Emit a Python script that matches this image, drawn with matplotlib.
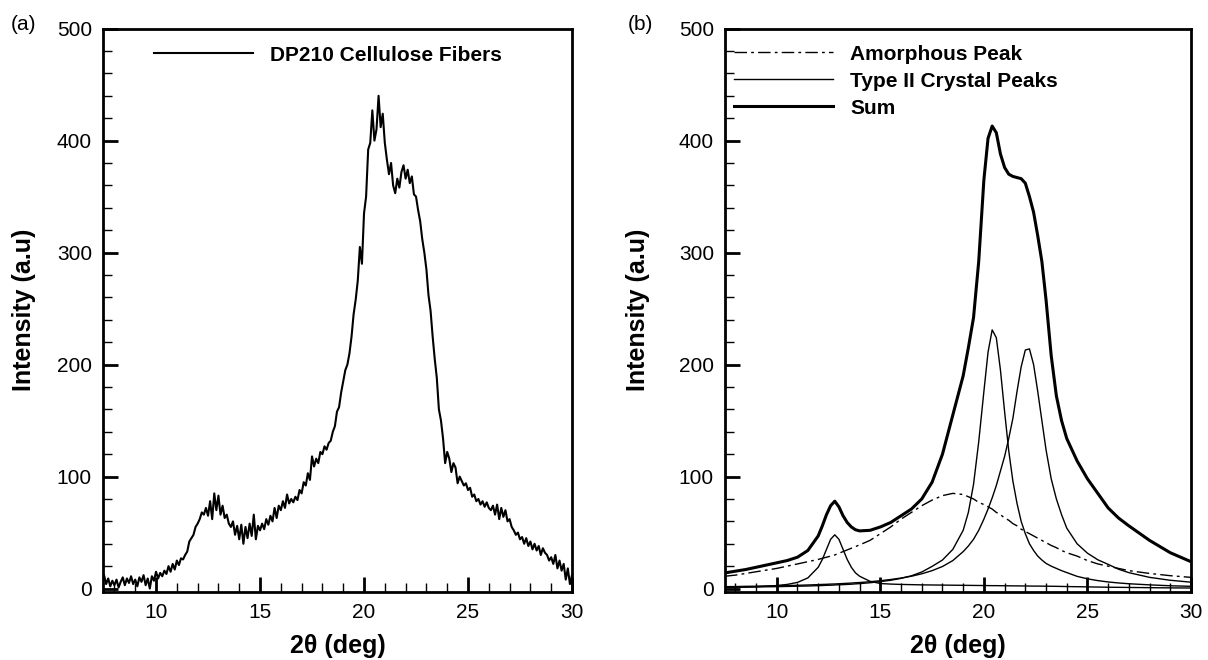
import numpy as np
import matplotlib
matplotlib.use("Agg")
import matplotlib.pyplot as plt

plt.rcParams['font.family'] = ['Liberation Sans', 'DejaVu Sans']

# ---- panel (a): measured pattern, 0.1 deg scan grid ----
scan_start, scan_stop, n_scan = 7.5, 30.0, 226
intensity = [
    12, 4, 9, 2, 7, 3, 8, 1, 6, 10,
    3, 9, 5, 11, 4, 8, 2, 10, 6, 12,
    3, 9, 0, 11, 7, 15,
    9, 14, 11, 16, 13, 20, 15, 22, 17, 25,
    21, 27, 26, 30, 33, 42, 45, 48, 55, 58,
    62, 68, 66, 72, 65, 78, 62, 85, 70, 83,
    66, 74, 63, 66, 58, 55, 60, 48, 56, 44,
    57, 40, 55, 45, 58, 47, 66, 44, 56, 52,
    58, 53, 62, 57, 65, 60, 72, 63, 74, 70,
    78, 72, 84, 76, 80, 77, 82, 79, 88, 85,
    95, 92, 103, 97, 118, 109, 116, 112, 122, 120,
    127, 124, 130, 132, 140, 145, 158, 162, 175, 185,
    195, 200, 210, 225, 245, 258, 275, 305, 290, 335,
    350, 392, 398, 427, 400, 410, 440, 412, 424, 398,
    383, 370, 380, 360, 353, 366, 358, 372, 378, 366,
    374, 362, 368, 352, 350, 338, 328, 312, 300, 285,
    262, 248, 225, 205, 188, 160, 150, 134, 112, 122,
    116, 104, 112, 108, 94, 100, 96, 92, 94, 88,
    90, 82, 84, 78, 80, 75, 78, 73, 77, 72,
    70, 74, 66, 75, 62, 72, 64, 70, 60, 62,
    55, 52, 48, 50, 44, 46, 40, 45, 38, 42,
    35, 40, 34, 38, 30, 36, 32, 30, 25, 28,
    22, 30, 18, 25, 16, 22, 8, 18, 4, 12,
]

# ---- panel (b): fitted components ----
fit_x = [7.5, 8, 8.5, 9, 9.5, 10, 10.5, 11, 11.5, 12,
         12.2, 12.4, 12.6, 12.8, 13, 13.2, 13.4, 13.6, 13.8, 14,
         14.5, 15, 15.5, 16, 16.5, 17, 17.5, 18, 18.5, 19,
         19.25, 19.5, 19.75, 20, 20.2, 20.4, 20.6, 20.8, 21, 21.2,
         21.4, 21.6, 21.8, 22, 22.2, 22.4, 22.6, 22.8, 23, 23.25,
         23.5, 23.75, 24, 24.5, 25, 25.5, 26, 26.5, 27, 28,
         29, 30]
amorphous = [11, 12, 13.5, 15, 16.5, 18, 20, 22, 24, 26,
             27, 28, 29, 30, 31.5, 33, 34.5, 36, 37.5, 39,
             43, 49, 55, 62, 68, 74, 79, 83, 85, 84,
             82, 80, 77, 75, 73, 71, 68, 66, 63, 61,
             58, 56, 53, 51, 49, 47, 45, 43, 41, 38.5,
             36.5, 34, 32, 29, 25, 22, 20, 18, 16, 13.5,
             11.5, 10]
peak_12_8 = [1.0, 1.2, 1.4, 1.7, 2.1, 2.7, 3.7, 5.5, 9.5, 19,
             26, 35, 44, 48, 44, 35, 26, 19, 14, 11,
             6.5, 4.5, 4.0, 3.7, 3.5, 3.3, 3.2, 3.1, 3.0, 2.9,
             2.85, 2.8, 2.75, 2.7, 2.65, 2.6, 2.6, 2.55, 2.5, 2.45,
             2.4, 2.4, 2.35, 2.3, 2.25, 2.2, 2.2, 2.15, 2.1, 2.05,
             2.0, 1.9, 1.8, 1.65, 1.5, 1.35, 1.2, 1.1, 1.0, 0.8,
             0.6, 0.5]
peak_20_4 = [1.1, 1.2, 1.3, 1.4, 1.6, 1.7, 1.9, 2.1, 2.3, 2.6,
             2.7, 2.9, 3.0, 3.2, 3.4, 3.5, 3.7, 3.9, 4.2, 4.4,
             5.2, 6.2, 7.4, 9.1, 11.4, 14.8, 19.8, 25.5, 35, 52,
             68, 93, 131, 176, 211, 231, 224, 195, 158, 123,
             96, 76, 60, 49, 40, 34, 29, 25.5, 22.5, 20,
             18, 16, 14.3, 10.9, 8.7, 7.1, 5.9, 5.0, 4.3, 3.3,
             2.5, 2.0]
peak_22_1 = [1.7, 1.8, 2.0, 2.1, 2.3, 2.5, 2.7, 2.9, 3.2, 3.5,
             3.7, 3.8, 4.0, 4.1, 4.3, 4.5, 4.7, 4.9, 5.2, 5.4,
             6.1, 7.0, 8.1, 9.4, 11, 13.2, 16, 19.7, 25, 33,
             38, 44, 52, 62, 71, 81, 92, 105, 118, 134,
             152, 176, 198, 213, 214, 200, 176, 150, 124, 98,
             80, 66, 54, 40, 31.6, 25.7, 21.6, 17.3, 14.2, 10,
             7.4, 5.7]
fit_sum = [14, 15.5, 17, 19, 21, 23, 25, 28, 34, 47,
           56, 66, 74, 78, 73, 65, 59, 55, 52.5, 51.5,
           52, 55, 59, 65, 71, 80, 95, 120, 155, 190,
           215, 242, 292, 365, 402, 413, 407, 388, 376, 370,
           368, 367, 366, 362, 350, 336, 315, 292, 258, 208,
           172, 150, 134, 114, 98, 85, 72, 63, 56, 43,
           32, 24]

two_theta = np.linspace(scan_start, scan_stop, n_scan)

W, H = 1208, 660
fig = plt.figure(figsize=(W / 100, H / 100), dpi=100)
ax1 = fig.add_axes([103 / W, 68.3 / H, 469 / W, 563.1 / H])
ax2 = fig.add_axes([725 / W, 68.3 / H, 466 / W, 563.1 / H])

ax1.plot(two_theta, intensity, color='black', lw=1.5, label='DP210 Cellulose Fibers')

ax2.plot(fit_x, amorphous, color='black', lw=1.0, linestyle=(0, (9, 3, 2, 3)),
         label='Amorphous Peak')
ax2.plot(fit_x, peak_12_8, color='black', lw=1.0, label='Type II Crystal Peaks')
ax2.plot(fit_x, peak_20_4, color='black', lw=1.0)
ax2.plot(fit_x, peak_22_1, color='black', lw=1.0)
ax2.plot(fit_x, fit_sum, color='black', lw=2.2, label='Sum')

for ax, xlo in ((ax1, 7.45), (ax2, 7.5)):
    ax.set_xlim(xlo, 30)
    ax.set_ylim(-2.8, 500)
    ax.set_xticks([10, 15, 20, 25, 30])
    ax.set_yticks([0, 100, 200, 300, 400, 500])
    ax.set_xticks(np.arange(8, 30, 1), minor=True)
    ax.set_yticks(np.arange(0, 500, 20), minor=True)
    ax.tick_params(which='both', direction='in', top=False, right=False,
                   labelsize=15, pad=8)
    ax.tick_params(which='major', length=11, width=2)
    ax.tick_params(which='minor', length=6.5, width=1)
    for sp in ax.spines.values():
        sp.set_linewidth(2)
    ax.set_xlabel('2θ (deg)', fontsize=18, fontweight='bold')
    ax.set_ylabel('Intensity (a.u)', fontsize=18, fontweight='bold')
    ax.xaxis.set_label_coords(0.5, -0.075)

ax1.yaxis.set_label_coords(-0.143, 0.5)
ax2.yaxis.set_label_coords(-0.16, 0.5)

ax1.legend(loc='upper left', bbox_to_anchor=(0.069, 1.003), frameon=False,
           handlelength=4.75, handletextpad=0.8,
           prop={'weight': 'bold', 'size': 15})
ax2.legend(loc='upper left', bbox_to_anchor=(-0.020, 1.005), frameon=False,
           handlelength=4.75, handletextpad=0.8, labelspacing=0.39,
           prop={'weight': 'bold', 'size': 15})

fig.text(24 / W, 1 - 25 / H, '(a)', fontsize=15, ha='center', va='center')
fig.text(640 / W, 1 - 25 / H, '(b)', fontsize=15, ha='center', va='center')

fig.savefig('out.png', dpi=100)
